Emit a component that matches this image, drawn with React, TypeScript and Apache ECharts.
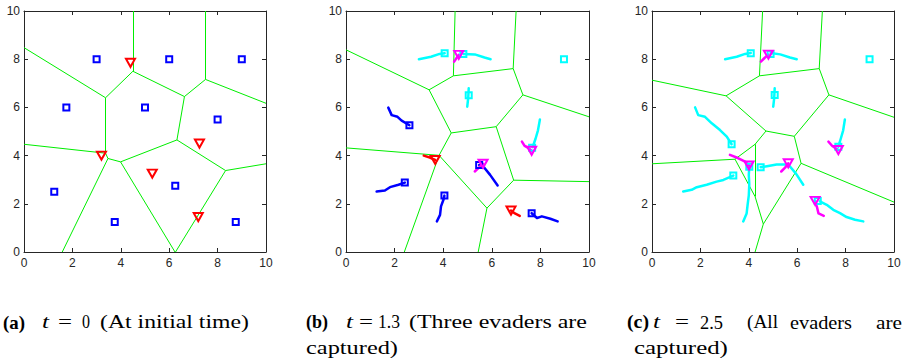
import React, { useEffect, useRef } from "react";
import * as echarts from "echarts";

// ---------- data ----------
const xTicks = [0, 2, 4, 6, 8, 10];

// Panel (a) t = 0
const edgesA = [
  [[4.5, 10], [4.5, 7.5]],
  [[7.5, 10], [7.5, 7.16]],
  [[0, 8.48], [3.37, 6.4]],
  [[3.37, 6.4], [4.5, 7.5]],
  [[4.5, 7.5], [6.63, 6.45]],
  [[6.63, 6.45], [7.5, 7.16]],
  [[7.5, 7.16], [10, 6.17]],
  [[3.37, 6.4], [3.37, 4.1]],
  [[6.63, 6.45], [6.32, 4.65]],
  [[0, 4.47], [3.37, 4.1]],
  [[3.37, 4.1], [3.47, 3.88]],
  [[3.47, 3.88], [3.99, 3.74]],
  [[3.47, 3.88], [1.58, 0]],
  [[3.99, 3.74], [6.32, 4.65]],
  [[3.99, 3.74], [6.24, 0]],
  [[6.32, 4.65], [8.33, 3.38]],
  [[8.33, 3.38], [10, 3.66]],
  [[8.33, 3.38], [6.26, 0]],
];
const pursuersA = [
  [3, 8], [6, 8], [9, 8], [1.75, 6], [5, 6],
  [8, 5.5], [1.25, 2.5], [3.75, 1.25], [6.25, 2.75], [8.75, 1.25],
];
const evadersA = [[4.4, 7.85], [7.25, 4.5], [3.2, 4.0], [5.3, 3.25], [7.2, 1.45]];

// Panel (b) t = 1.3
const edgesB = [
  [[4.49, 10], [4.42, 7.31]],
  [[7.0, 10], [6.88, 7.61]],
  [[0, 8.39], [3.42, 6.73]],
  [[3.42, 6.73], [4.42, 7.31]],
  [[4.42, 7.31], [6.88, 7.61]],
  [[6.88, 7.61], [7.28, 6.52]],
  [[7.28, 6.52], [10, 5.61]],
  [[3.42, 6.73], [4.33, 4.94]],
  [[4.33, 4.94], [6.18, 5.2]],
  [[6.18, 5.2], [7.28, 6.52]],
  [[6.18, 5.2], [6.9, 2.98]],
  [[6.9, 2.98], [10, 2.92]],
  [[0, 4.32], [3.83, 4.01]],
  [[3.83, 4.01], [4.33, 4.94]],
  [[3.83, 4.01], [5.8, 1.82]],
  [[5.8, 1.82], [6.9, 2.98]],
  [[3.83, 4.01], [2.4, 0]],
  [[5.8, 1.82], [5.44, 0]],
];
const activePursuersB = [[2.61, 5.26], [2.42, 2.88], [4.05, 2.34], [5.48, 3.61], [7.64, 1.61]];
const idlePursuersB = [[4.06, 8.25], [4.83, 8.22], [5.05, 6.5], [8.97, 8.0], [7.66, 4.33]];
const freeEvadersB = [[3.67, 3.82], [6.79, 1.72]];
const caughtEvadersB = [[4.64, 8.18], [7.64, 4.2], [5.64, 3.66]];
const activeTrailsB = [
  [[1.74, 5.99], [1.88, 5.68], [2.12, 5.61], [2.29, 5.45], [2.61, 5.26]],
  [[1.26, 2.51], [1.6, 2.55], [1.81, 2.69], [2.16, 2.79], [2.42, 2.88]],
  [[3.74, 1.27], [3.87, 1.54], [3.91, 1.89], [4.01, 2.17], [4.05, 2.34]],
  [[6.24, 2.76], [5.93, 3.2], [5.66, 3.54], [5.48, 3.61]],
  [[8.71, 1.27], [8.41, 1.38], [8.06, 1.48], [7.86, 1.41], [7.64, 1.61]],
];
const idleTrailsB = [
  [[3.0, 8.0], [3.5, 8.1], [3.85, 8.22], [4.06, 8.25]],
  [[4.83, 8.22], [5.3, 8.2], [5.7, 8.07], [5.95, 8.0]],
  [[4.99, 6.03], [5.03, 6.4], [5.05, 6.79]],
  [[7.98, 5.5], [7.9, 5.05], [7.8, 4.7], [7.68, 4.35]],
];
const caughtTrailsB = [
  [[4.45, 7.9], [4.55, 8.05], [4.64, 8.18]],
  [[7.24, 4.58], [7.35, 4.4], [7.5, 4.32], [7.64, 4.2]],
  [[5.3, 3.34], [5.47, 3.5], [5.64, 3.66]],
];
const freeTrailsB = [
  [[3.2, 4.0], [3.45, 3.92], [3.67, 3.82]],
  [[7.15, 1.5], [6.95, 1.6], [6.79, 1.72]],
];

// Panel (c) t = 2.5
const edgesC = [
  [[4.57, 10], [4.44, 7.31]],
  [[7.04, 10], [6.91, 7.61]],
  [[0, 7.13], [3.06, 6.48]],
  [[3.06, 6.48], [4.44, 7.31]],
  [[4.44, 7.31], [6.91, 7.61]],
  [[6.91, 7.61], [7.31, 6.52]],
  [[7.31, 6.52], [10, 5.59]],
  [[3.06, 6.48], [4.71, 5.02]],
  [[4.71, 5.02], [5.88, 4.8]],
  [[5.88, 4.8], [7.31, 6.52]],
  [[5.88, 4.8], [6.16, 3.68]],
  [[6.16, 3.68], [10, 2.07]],
  [[4.71, 5.02], [4.26, 4.47]],
  [[4.26, 4.47], [3.43, 3.85]],
  [[4.26, 4.47], [4.26, 2.3]],
  [[0, 3.66], [3.43, 3.85]],
  [[3.43, 3.85], [4.26, 2.3]],
  [[4.26, 2.3], [4.6, 1.16]],
  [[6.16, 3.68], [4.6, 1.16]],
  [[4.6, 1.16], [4.26, 0]],
];
const pursuersC = [
  [4.08, 8.25], [4.9, 8.22], [5.07, 6.51], [8.99, 8.0], [3.29, 4.47],
  [3.36, 3.17], [4.02, 3.54], [4.49, 3.52], [7.7, 4.37], [6.85, 2.12],
];
const evadersC = [[4.81, 8.19], [7.7, 4.23], [4.01, 3.59], [5.63, 3.68], [6.74, 2.12]];
const pursuerTrailsC = [
  [[3.02, 8.0], [3.5, 8.1], [3.85, 8.22], [4.08, 8.26]],
  [[4.9, 8.26], [5.3, 8.2], [5.7, 8.07], [5.98, 8.0]],
  [[5.01, 6.03], [5.05, 6.4], [5.07, 6.79]],
  [[7.97, 5.5], [7.9, 5.05], [7.8, 4.7], [7.7, 4.37]],
  [[1.78, 6.0], [1.91, 5.68], [2.19, 5.61], [2.47, 5.34], [2.81, 5.06], [3.09, 4.79], [3.29, 4.47]],
  [[1.29, 2.51], [1.64, 2.58], [1.85, 2.69], [2.26, 2.79], [2.67, 2.92], [2.95, 2.99], [3.36, 3.17]],
  [[3.77, 1.27], [3.91, 1.6], [3.95, 1.95], [4.0, 2.35], [4.02, 2.8], [4.0, 3.2], [4.02, 3.54]],
  [[6.25, 2.79], [5.95, 3.25], [5.63, 3.63], [5.15, 3.63], [4.75, 3.56], [4.49, 3.52]],
  [[8.73, 1.27], [8.39, 1.34], [8.04, 1.45], [7.77, 1.61], [7.49, 1.75], [7.22, 1.96], [6.94, 2.1]],
];
const evaderTrailsC = [
  [[4.5, 7.9], [4.65, 8.05], [4.81, 8.19]],
  [[7.29, 4.58], [7.45, 4.4], [7.7, 4.23]],
  [[3.22, 4.03], [3.55, 3.9], [3.85, 3.75], [4.01, 3.59]],
  [[5.34, 3.34], [5.5, 3.5], [5.63, 3.68]],
  [[7.1, 1.5], [6.88, 1.6], [6.82, 1.85], [6.74, 2.12]],
];

// ---------- layout ----------
const GRIDS = [
  { left: 24, top: 11, width: 242, height: 241 },
  { left: 346, top: 11, width: 243, height: 241 },
  { left: 652, top: 11, width: 242, height: 241 },
];
const AX = "#262626";
const GREEN = "#00ee00";
const BLUE = "#0000ff";
const RED = "#ff0000";
const CYAN = "#00ffff";
const MAGENTA = "#ff00ff";

const CAP_FONT = "'Liberation Serif', 'Times New Roman', serif";
const CAP_SIZE = 19;
// [text, left x, target width, row, style]
const captionPieces: [string, number, number, number, string][] = [
  ["(a)", 3, 22, 0, "bold"],
  ["t", 42, 7, 0, "italic"],
  ["=", 58, 14, 0, "normal"],
  ["0", 82, 8, 0, "normal"],
  ["(At initial time)", 100, 149, 0, "normal"],
  ["(b)", 306, 22, 0, "bold"],
  ["t", 346, 7, 0, "italic"],
  ["=", 359, 14, 0, "normal"],
  ["1.3", 378, 22, 0, "normal"],
  ["(Three evaders are", 409, 178, 0, "normal"],
  ["captured)", 306, 92, 1, "normal"],
  ["(c)", 627, 22, 0, "bold"],
  ["t", 653, 7, 0, "italic"],
  ["=", 675, 14, 0, "normal"],
  ["2.5", 700, 23, 0, "normal"],
  ["(All", 747, 31, 0, "normal"],
  ["evaders", 790, 62, 0, "normal"],
  ["are", 876, 26, 0, "normal"],
  ["captured)", 634, 94, 1, "normal"],
];
const ROW_Y = [322, 348];

function measure(text: string, font: string): number {
  const c = document.createElement("canvas").getContext("2d");
  if (!c) return text.length * 8;
  c.font = font;
  return c.measureText(text).width || text.length * 8;
}

function buildOption() {
  const xAxis: any[] = [];
  const yAxis: any[] = [];
  GRIDS.forEach((_, i) => {
    const common = {
      gridIndex: i,
      type: "value",
      min: 0,
      max: 10,
      interval: 2,
      splitLine: { show: false },
      axisLine: { show: true, onZero: false, lineStyle: { color: AX, width: 1 } },
      axisTick: { show: true, inside: true, length: 4, lineStyle: { color: AX, width: 1 } },
    };
    xAxis.push({
      ...common,
      position: "bottom",
      axisLabel: {
        color: AX, fontSize: 12, fontFamily: "'Liberation Sans', Arial, sans-serif", margin: 5,
        formatter: (v: number) => (xTicks.includes(v) ? String(v) : ""),
      },
    });
    xAxis.push({ ...common, position: "top", axisLabel: { show: false } });
    yAxis.push({
      ...common,
      position: "left",
      axisLabel: { color: AX, fontSize: 12, fontFamily: "'Liberation Sans', Arial, sans-serif", margin: 4 },
    });
    yAxis.push({ ...common, position: "right", axisLabel: { show: false } });
  });

  const edges = (idx: number, data: number[][][]) => ({
    type: "lines",
    coordinateSystem: "cartesian2d",
    xAxisIndex: idx * 2,
    yAxisIndex: idx * 2,
    polyline: false,
    silent: true,
    lineStyle: { color: GREEN, width: 1, opacity: 1 },
    data: data.map((c) => ({ coords: c })),
  });
  const trails = (idx: number, data: number[][][], color: string) => ({
    type: "lines",
    coordinateSystem: "cartesian2d",
    xAxisIndex: idx * 2,
    yAxisIndex: idx * 2,
    polyline: true,
    silent: true,
    lineStyle: { color, width: 2.5, opacity: 1, cap: "round", join: "round" },
    data: data.map((c) => ({ coords: c })),
  });
  const squares = (idx: number, data: number[][], color: string) => ({
    type: "scatter",
    xAxisIndex: idx * 2,
    yAxisIndex: idx * 2,
    symbol: "rect",
    symbolSize: 6,
    silent: true,
    itemStyle: { color: "rgba(255,255,255,0)", borderColor: color, borderWidth: 2, opacity: 1 },
    data,
  });
  const triangles = (idx: number, data: number[][], color: string) => ({
    type: "scatter",
    xAxisIndex: idx * 2,
    yAxisIndex: idx * 2,
    symbol: "triangle",
    symbolRotate: 180,
    symbolSize: [9, 8],
    silent: true,
    itemStyle: { color: "rgba(255,255,255,0)", borderColor: color, borderWidth: 2, opacity: 1 },
    data,
  });

  const series = [
    edges(0, edgesA),
    squares(0, pursuersA, BLUE),
    triangles(0, evadersA, RED),

    edges(1, edgesB),
    trails(1, idleTrailsB, CYAN),
    trails(1, activeTrailsB, BLUE),
    trails(1, caughtTrailsB, MAGENTA),
    trails(1, freeTrailsB, RED),
    squares(1, idlePursuersB, CYAN),
    squares(1, activePursuersB, BLUE),
    triangles(1, caughtEvadersB, MAGENTA),
    triangles(1, freeEvadersB, RED),

    edges(2, edgesC),
    trails(2, pursuerTrailsC, CYAN),
    trails(2, evaderTrailsC, MAGENTA),
    squares(2, pursuersC, CYAN),
    triangles(2, evadersC, MAGENTA),
  ];

  const graphic = captionPieces.map(([text, x, w, row, st]) => {
    const weight = st === "bold" ? "bold" : "normal";
    const fstyle = st === "italic" ? "italic" : "normal";
    const font = `${fstyle} ${weight} ${CAP_SIZE}px ${CAP_FONT}`;
    const mw = measure(text, font);
    return {
      type: "text",
      x,
      y: ROW_Y[row],
      scaleX: w / mw,
      silent: true,
      style: {
        text,
        fill: "#000",
        font,
        align: "left",
        verticalAlign: "middle",
      },
    };
  });

  return {
    animation: false,
    backgroundColor: "#ffffff",
    grid: GRIDS.map((g) => ({ ...g, containLabel: false })),
    xAxis,
    yAxis,
    series,
    graphic,
  };
}

export default function App() {
  const ref = useRef<HTMLDivElement>(null);
  useEffect(() => {
    document.body.style.margin = "0";
    if (!ref.current) return;
    const chart = echarts.init(ref.current, undefined, { renderer: "svg" });
    chart.setOption(buildOption() as any);
    return () => chart.dispose();
  }, []);
  return <div ref={ref} style={{ width: 905, height: 361 }} />;
}
